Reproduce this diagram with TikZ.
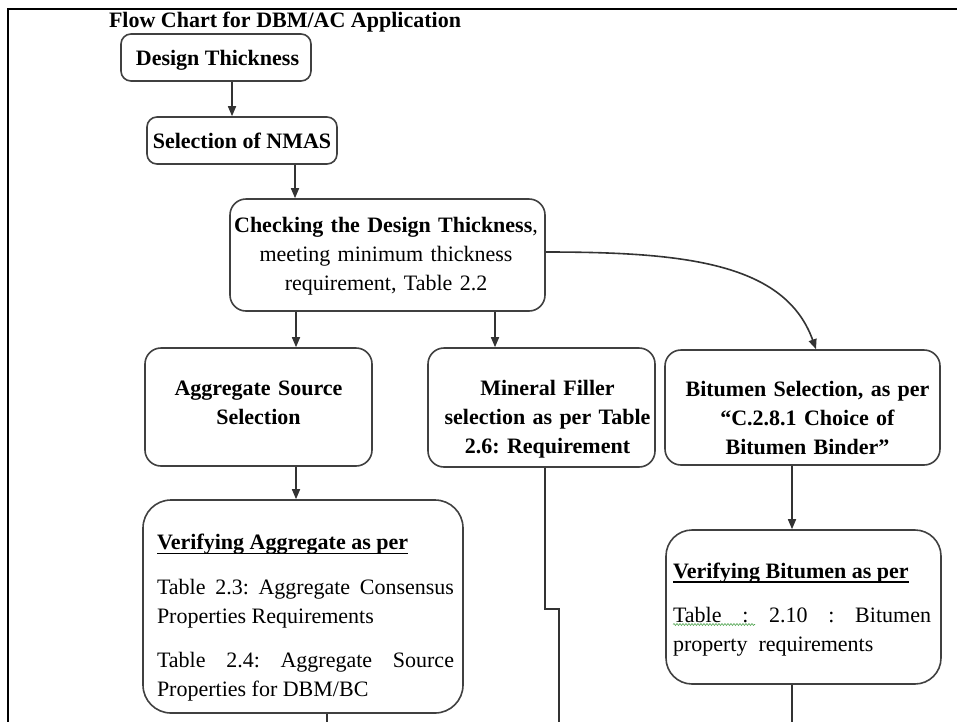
\documentclass[tikz,border=0pt]{standalone}
\usepackage{fontspec}
\setmainfont{Liberation Serif}
\usetikzlibrary{arrows.meta,decorations.pathmorphing}

% bold heading with a rule just below the baseline
\newsavebox{\hdrbox}
\newcommand{\hdrline}[1]{%
  \sbox{\hdrbox}{\textbf{#1}}%
  \rlap{\rule[-4.5pt]{\wd\hdrbox}{1.4pt}}\usebox{\hdrbox}}

\definecolor{boxgray}{HTML}{404040}
\definecolor{linegray}{HTML}{333333}
\definecolor{spellgreen}{HTML}{4FA34F}

\tikzset{
  box/.style={draw=boxgray, line width=1.6pt, rounded corners=#1, inner sep=0pt},
  box/.default=14pt,
  lbl/.style={inner sep=0pt, anchor=base, font=\fontsize{22}{29}\selectfont\frenchspacing},
  para/.style={lbl, align=justify, font=\fontsize{22}{29.5}\selectfont\frenchspacing},
  conn/.style={draw=linegray, line width=1.6pt},
  arr/.style={conn, -{Triangle[length=10pt,width=8pt]}},
  frame/.style={draw=black, line width=2.5pt},
}

\begin{document}
\begin{tikzpicture}[x=1pt,y=-1pt]
\useasboundingbox (0,0) rectangle (957,721);

% page frame
\draw[frame] (960,9) -- (8,9) -- (8,725);

% heading
\node[lbl] (title) at (285,27) {\textbf{Flow Chart for DBM/AC Application}};

% boxes
\node[box=10pt, minimum width=190pt, minimum height=47pt] (dt)  at (216,57.5) {};
\node[box=10pt, minimum width=190pt, minimum height=47pt] (nm)  at (242,140.5) {};
\node[box=16pt, minimum width=315pt, minimum height=112pt] (chk) at (387.5,255) {};
\node[box=16pt, minimum width=227pt, minimum height=118pt] (agg) at (258.5,407) {};
\node[box=16pt, minimum width=227pt, minimum height=119pt] (mf)  at (541.5,407.5) {};
\node[box=16pt, minimum width=275pt, minimum height=115pt] (bs)  at (802.5,407.5) {};
\node[box=28pt, minimum width=320pt, minimum height=213pt] (va)  at (303,606.5) {};
\node[box=26pt, minimum width=275pt, minimum height=154pt] (vb)  at (803.5,607) {};

% box texts
\node[lbl] (dtT) at (217.5,65) {\textbf{Design Thickness}};
\node[lbl] (nmT) at (242,148) {\textbf{Selection of NMAS}};
\node[lbl, text width=320pt, align=center] (chkT) at (386,232.5)
  {\textbf{Checking the Design Thickness},\\ meeting minimum thickness\\ requirement, Table 2.2};
\node[lbl, text width=220pt, align=center] (aggT) at (258.5,395)
  {\textbf{Aggregate Source}\\ \textbf{Selection}};
\node[lbl, text width=220pt, align=center] (mfT) at (547.5,395)
  {\textbf{Mineral Filler}\\ \textbf{selection as per Table}\\ \textbf{2.6: Requirement}};
\node[lbl, text width=262pt, align=center] (bsT) at (807.5,396.5)
  {\textbf{Bitumen Selection, as per}\\ \textbf{“C.2.8.1 Choice of}\\ \textbf{Bitumen Binder”}};

\node[para, text width=297pt] (vaT) at (305.5,549.5) {%
  \hdrline{Verifying Aggregate as per}\par\vspace{15pt}
  Table 2.3: Aggregate Consensus\linebreak Properties Requirements\par\vspace{14pt}
  Table 2.4: Aggregate Source\linebreak Properties for DBM/BC};
\node[para, text width=258pt] (vbT) at (802,578) {%
  \hdrline{Verifying Bitumen as per}\par\vspace{14.5pt}
  Table : 2.10 : Bitumen\linebreak property\ \ requirements};

% spell-check squiggle under "Table :"
\draw[spellgreen, line width=0.6pt, decorate,
      decoration={snake, amplitude=1pt, segment length=3pt}] (673,624.5) -- (755,624.5);

% connectors
\coordinate (a1) at ([xshift=16pt]dt.south);
\draw[arr] (a1) -- (a1 |- nm.north);

\coordinate (a2) at ([xshift=53pt]nm.south);
\draw[arr] (a2) -- (a2 |- chk.north);

\coordinate (a3) at ([xshift=37.5pt]agg.north);
\draw[arr] (a3 |- chk.south) -- (a3);

\coordinate (a4) at ([xshift=-46.5pt]mf.north);
\draw[arr] (a4 |- chk.south) -- (a4);

\coordinate (a5s) at ([yshift=3pt]chk.east);
\coordinate (a5e) at ([xshift=13.5pt]bs.north);
\draw[arr] (a5s) .. controls +(140,0) and +(-31,-86) .. (a5e);

\coordinate (a6) at ([xshift=37.5pt]agg.south);
\draw[arr] (a6) -- (a6 |- va.north);

\coordinate (a7) at ([xshift=-10.5pt]bs.south);
\draw[arr] (a7) -- (a7 |- vb.north);

% lines running on below the page edge
\coordinate (vbEnd) at (792,725);
\draw[conn] (vbEnd |- vb.south) -- (vbEnd);

\coordinate (vaEnd) at (327,725);
\draw[conn] (vaEnd |- va.south) -- (vaEnd);

\coordinate (mfOut) at ([xshift=3.5pt]mf.south);
\coordinate (mfJog) at (559,609);
\coordinate (mfEnd) at (559,725);
\draw[conn] (mfOut) |- (mfJog) -- (mfEnd);
\end{tikzpicture}
\end{document}
